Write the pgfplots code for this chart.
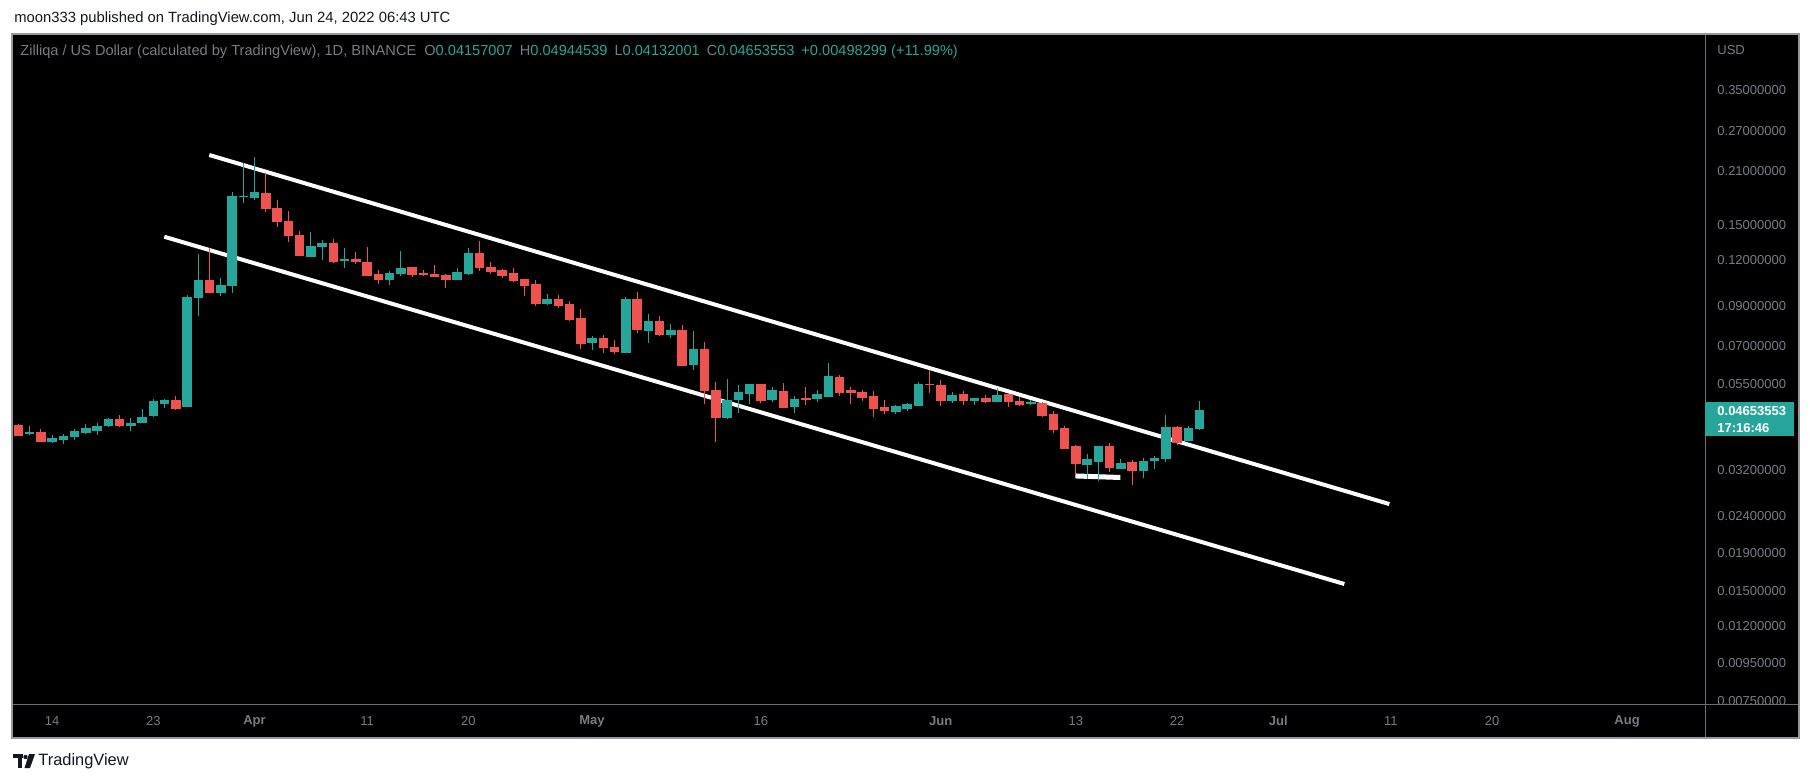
\documentclass[border=0pt]{standalone}
\usepackage{pgfplots}
\pgfplotsset{compat=1.18}
\usepackage{pgfplotstable}
\usepackage{fontspec}
\setmainfont{Liberation Sans}
\definecolor{tvgreen}{HTML}{26A69A}
\definecolor{tvred}{HTML}{EF5350}
\definecolor{tvtext}{HTML}{787B86}
\definecolor{tvdark}{HTML}{131722}
\definecolor{tvframe}{HTML}{9598A1}
\definecolor{tvsep}{HTML}{6A6D78}

% green candles: day (days since 1 Mar 2022), open, high, low, close
\pgfplotstableread{
d o h l c
11 0.04048 0.04230 0.03997 0.04074
13 0.03833 0.03997 0.03809 0.03915
14 0.03898 0.04023 0.03778 0.03972
15 0.03955 0.04151 0.03881 0.04099
16 0.04074 0.04284 0.04030 0.04159
17 0.04107 0.04311 0.04005 0.04230
18 0.04238 0.04457 0.04211 0.04412
20 0.04238 0.04440 0.04107 0.04303
21 0.04319 0.04699 0.04303 0.04468
22 0.04513 0.05013 0.04485 0.04950
23 0.04867 0.05013 0.04747 0.04982
25 0.04776 0.09642 0.04770 0.09521
26 0.09481 0.12479 0.08465 0.10596
28 0.09826 0.10730 0.09600 0.10268
29 0.10223 0.18429 0.09764 0.17972
30 0.17916 0.22076 0.17230 0.17972
31 0.17781 0.22966 0.17559 0.18394
36 0.12323 0.14330 0.12245 0.13123
37 0.13123 0.13627 0.12016 0.13372
39 0.12016 0.12958 0.11426 0.12054
43 0.10663 0.11213 0.10268 0.11073
44 0.11073 0.12716 0.10866 0.11426
49 0.10663 0.11426 0.10630 0.11143
50 0.11073 0.12958 0.10934 0.12557
57 0.09169 0.09703 0.09054 0.09403
61 0.07175 0.07451 0.06823 0.07357
64 0.06737 0.09521 0.06730 0.09403
66 0.07737 0.08556 0.07130 0.08188
68 0.07545 0.08035 0.07357 0.07737
70 0.06248 0.07688 0.06016 0.06866
73 0.04476 0.05685 0.04421 0.04982
74 0.05013 0.05474 0.04591 0.05239
75 0.05206 0.05509 0.04858 0.05509
77 0.05013 0.05406 0.04919 0.05305
79 0.04797 0.05109 0.04591 0.05013
81 0.05045 0.05305 0.04919 0.05173
82 0.05109 0.06287 0.05100 0.05793
88 0.04649 0.04827 0.04562 0.04797
89 0.04737 0.04889 0.04649 0.04858
90 0.04827 0.05579 0.04797 0.05509
93 0.04982 0.05239 0.04889 0.05141
95 0.04982 0.05045 0.04827 0.05045
97 0.04950 0.05372 0.04940 0.05141
100 0.04889 0.04982 0.04827 0.04904
105 0.03316 0.03547 0.03031 0.03438
106 0.03380 0.03730 0.02999 0.03730
108 0.03234 0.03438 0.03230 0.03352
110 0.03194 0.03459 0.03056 0.03394
111 0.03401 0.03503 0.03234 0.03459
112 0.03444 0.04533 0.03380 0.04204
114 0.03857 0.04230 0.03850 0.04157
115 0.04157 0.04945 0.04132 0.04654
}\greens

% red candles
\pgfplotstableread{
d o h l c
10 0.04257 0.04276 0.03972 0.03997
12 0.04074 0.04151 0.03830 0.03833
19 0.04412 0.04533 0.04196 0.04238
24 0.04982 0.05109 0.04678 0.04717
27 0.10596 0.12958 0.09746 0.09826
32 0.18313 0.20730 0.16282 0.16593
33 0.16664 0.17525 0.14815 0.15290
34 0.15356 0.16353 0.13483 0.14001
35 0.14062 0.14420 0.12323 0.12400
38 0.13372 0.13713 0.11792 0.11941
40 0.12040 0.12636 0.11718 0.11889
41 0.11866 0.13040 0.10866 0.10934
42 0.11004 0.11284 0.10333 0.10663
45 0.11499 0.11499 0.10798 0.11004
46 0.11073 0.11284 0.10866 0.11004
47 0.11004 0.11644 0.10850 0.10866
48 0.10934 0.11004 0.10076 0.10663
51 0.12557 0.13541 0.11213 0.11499
52 0.11499 0.11866 0.11004 0.11213
53 0.11284 0.11355 0.10730 0.10934
54 0.11073 0.11426 0.10464 0.10596
55 0.10663 0.10663 0.09582 0.10268
56 0.10333 0.10596 0.08998 0.09169
58 0.09403 0.09642 0.08885 0.09054
59 0.09112 0.09285 0.08188 0.08291
60 0.08343 0.08830 0.06866 0.07130
62 0.07357 0.07497 0.06695 0.06952
63 0.06952 0.07266 0.06653 0.06780
65 0.09403 0.09826 0.07592 0.07786
67 0.08188 0.08449 0.07451 0.07545
69 0.07737 0.07984 0.06200 0.06208
71 0.06866 0.07175 0.04858 0.05305
72 0.05305 0.05579 0.03825 0.04476
76 0.05509 0.05510 0.04889 0.04982
78 0.05272 0.05544 0.04737 0.04767
80 0.05045 0.05406 0.04827 0.05013
83 0.05757 0.05830 0.05118 0.05239
84 0.05305 0.05406 0.04858 0.05216
85 0.05239 0.05305 0.04950 0.05077
86 0.05109 0.05272 0.04476 0.04737
87 0.04767 0.04982 0.04562 0.04678
91 0.05509 0.06016 0.05206 0.05485
92 0.05474 0.05650 0.04797 0.04982
94 0.05173 0.05272 0.04827 0.04982
96 0.05045 0.05141 0.04889 0.04950
98 0.05173 0.05173 0.04767 0.04950
99 0.04950 0.05077 0.04797 0.04858
101 0.04889 0.04919 0.04476 0.04533
102 0.04562 0.04649 0.04048 0.04151
103 0.04177 0.04230 0.03680 0.03684
104 0.03730 0.03754 0.03108 0.03352
107 0.03730 0.03801 0.03174 0.03255
109 0.03373 0.03416 0.02924 0.03194
113 0.04204 0.04230 0.03761 0.03825
}\reds

\newcommand{\drawcandles}[2]{%
  \pgfplotstablegetrowsof{#1}%
  \pgfmathtruncatemacro{\nrows}{\pgfplotsretval-1}%
  \pgfplotsforeachungrouped \i in {0,...,\nrows}{%
    \pgfplotstablegetelem{\i}{d}\of{#1}\let\cD\pgfplotsretval
    \pgfplotstablegetelem{\i}{o}\of{#1}\let\cO\pgfplotsretval
    \pgfplotstablegetelem{\i}{h}\of{#1}\let\cH\pgfplotsretval
    \pgfplotstablegetelem{\i}{l}\of{#1}\let\cL\pgfplotsretval
    \pgfplotstablegetelem{\i}{c}\of{#1}\let\cC\pgfplotsretval
    \pgfmathsetmacro{\cA}{\cD-0.38}%
    \pgfmathsetmacro{\cB}{\cD+0.38}%
    \edef\doplot{%
      \noexpand\addplot[#2, line width=0.5pt, forget plot] coordinates {(\cD,\cL) (\cD,\cH)};
      \noexpand\addplot[fill=#2, draw=#2, line width=0.4pt, forget plot] coordinates {(\cA,\cO) (\cB,\cO) (\cB,\cC) (\cA,\cC)} -- cycle;
    }\doplot
  }}

\begin{document}
\begin{tikzpicture}
\begin{scope}[x=0.5pt,y=-0.5pt,yshift=391.5pt]
  \useasboundingbox (0,0) rectangle (1813,783);
  \fill[white] (0,0) rectangle (1813,783);
  \fill[black] (12,34) rectangle (1799,738);
\end{scope}

\begin{axis}[
  at={(6.5pt,39.5pt)}, anchor=south west,
  width=846pt, height=334.5pt, scale only axis,
  xmin=9.533, xmax=159.93,
  ymode=log, ymin=0.007362, ymax=0.4947,
  axis line style={draw=none},
  major tick length=0pt, tick style={draw=none},
  xtick={13,22,31,41,50,61,76,92,104,113,122,132,141,153},
  xticklabels={14,23,\textbf{Apr},11,20,\textbf{May},16,\textbf{Jun},13,22,\textbf{Jul},11,20,\textbf{Aug}},
  ytick={0.0075,0.0095,0.012,0.015,0.019,0.024,0.032,0.055,0.07,0.09,0.12,0.15,0.21,0.27,0.35},
  yticklabels={0.00750000,0.00950000,0.01200000,0.01500000,0.01900000,0.02400000,0.03200000,0.05500000,0.07000000,0.09000000,0.12000000,0.15000000,0.21000000,0.27000000,0.35000000},
  yticklabel pos=right,
  ticklabel style={font=\fontsize{6.5}{7}\selectfont, text=tvtext, inner sep=0pt},
  yticklabel style={anchor=west, xshift=6pt},
  xticklabel style={anchor=center, yshift=-8.5pt},
]
% channel lines and support segment
\addplot[white, line width=2pt, line cap=butt, forget plot] coordinates {(26.98,0.2326) (131.87,0.02589)};
\addplot[white, line width=2pt, line cap=butt, forget plot] coordinates {(22.98,0.1391) (127.87,0.01566)};
\addplot[white, line width=2.5pt, line cap=butt, forget plot] coordinates {(103.96,0.03090) (107.96,0.03060)};
% candles
\drawcandles{\greens}{tvgreen}
\drawcandles{\reds}{tvred}
\end{axis}

\begin{scope}[x=0.5pt,y=-0.5pt,yshift=391.5pt]
  % hide part of price scale under time scale
  \fill[black] (1706,704.5) rectangle (1798.5,737.5);
  % frame and separators
  \draw[tvsep, line width=0.5pt] (12,704) -- (1799,704);
  \draw[tvsep, line width=0.5pt] (1705,34) -- (1705,738);
  \draw[tvframe, line width=0.6pt] (12,34) rectangle (1799,738);
  % price tag
  \fill[tvgreen] (1705,402) rectangle (1794,436);
  \node[anchor=west, inner sep=0pt, text=white, font=\fontsize{6.5}{7}\selectfont\bfseries] at (1717,411) {0.04653553};
  \node[anchor=west, inner sep=0pt, text=white, font=\fontsize{6.5}{7}\selectfont\bfseries] at (1717,428) {17:16:46};
  \node[anchor=west, inner sep=0pt, text=tvtext, font=\fontsize{6.5}{7}\selectfont] at (1717,50) {USD};
  % header lines
  \node[anchor=west, inner sep=0pt, text=tvdark, font=\fontsize{7.4}{8}\selectfont] at (14,19) {moon333 published on TradingView.com, Jun 24, 2022 06:43 UTC};
  \node[anchor=west, inner sep=0pt, font=\fontsize{7.3}{8}\selectfont] at (20,52)
    {\textcolor{tvtext}{Zilliqa / US Dollar (calculated by TradingView), 1D, BINANCE}\hspace{4pt}%
     \textcolor{tvtext}{O}\textcolor{tvgreen}{0.04157007}\hspace{3.5pt}%
     \textcolor{tvtext}{H}\textcolor{tvgreen}{0.04944539}\hspace{3.5pt}%
     \textcolor{tvtext}{L}\textcolor{tvgreen}{0.04132001}\hspace{3.5pt}%
     \textcolor{tvtext}{C}\textcolor{tvgreen}{0.04653553}\hspace{3.5pt}%
     \textcolor{tvgreen}{+0.00498299 (+11.99\%)}};
  % TradingView logo
  \fill[tvdark] (13,754) rectangle (23,758);
  \fill[tvdark] (17.5,754) rectangle (21.5,768);
  \fill[tvdark] (25.5,757) circle (2.2);
  \fill[tvdark] (29,754) -- (35,754) -- (30,768) -- (24.5,768) -- cycle;
  \node[anchor=west, inner sep=0pt, text=tvdark, font=\fontsize{8.2}{9}\selectfont] at (38,761) {TradingView};
\end{scope}
\end{tikzpicture}
\end{document}
